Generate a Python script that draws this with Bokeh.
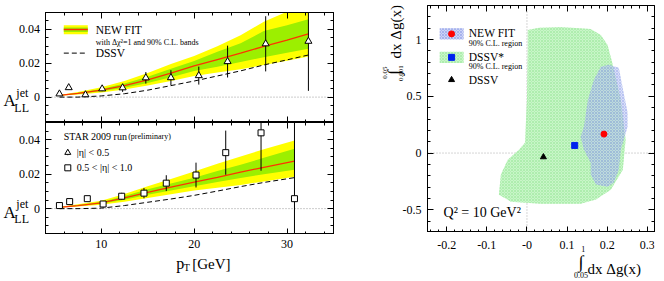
from math import pi
from bokeh.plotting import figure
from bokeh.models import (Range1d, LinearAxis, FixedTicker, CustomJSTickFormatter,
                          Span, Label)
from bokeh.core.properties import value
from bokeh.layouts import row, column
from bokeh.embed import file_html
from bokeh.resources import INLINE

FONT = "Liberation Serif"

# ---------------- data: top-left panel (|eta| < 0.5, triangles) ----------------
pt_top = [5.5, 6.5, 8.3, 10.1, 12.3, 14.8, 17.5, 20.5, 23.6, 27.7, 32.3]
all_top = [0.0019, 0.0056, 0.0014, 0.0049, 0.0055, 0.0114, 0.0115, 0.0127, 0.0210, 0.0315, 0.0330]
err_top = [0.0008, 0.0008, 0.0009, 0.0014, 0.0024, 0.0034, 0.0044, 0.0053, 0.0094, 0.0163, 0.0293]

band_pt_top = [5.5, 7.5, 10, 12.5, 15, 17.5, 20, 22.5, 25, 27.5, 30, 32.3]
fit_top = [0.0010, 0.0022, 0.0041, 0.0068, 0.0102, 0.0142, 0.0184, 0.0222, 0.0260, 0.0300, 0.0337, 0.0374]
green_lo_top = [0.0009, 0.0018, 0.0034, 0.0056, 0.0084, 0.0117, 0.0155, 0.0180, 0.0208, 0.0236, 0.0262, 0.0286]
green_hi_top = [0.0011, 0.0026, 0.0048, 0.0080, 0.0121, 0.0168, 0.0213, 0.0268, 0.0318, 0.0390, 0.0425, 0.0460]
yellow_lo_top = [0.0008, 0.0015, 0.0028, 0.0045, 0.0068, 0.0095, 0.0125, 0.0145, 0.0165, 0.0190, 0.0215, 0.0240]
yellow_hi_top = [0.0012, 0.0030, 0.0058, 0.0095, 0.0142, 0.0195, 0.0243, 0.0300, 0.0365, 0.0445, 0.0505, 0.0560]
dssv_top = [0.0000, 0.0000, 0.0007, 0.0020, 0.0041, 0.0068, 0.0095, 0.0125, 0.0155, 0.0190, 0.0220, 0.0249]

# ---------------- data: bottom-left panel (0.5 < |eta| < 1.0, squares) ----------------
pt_bot = [5.5, 6.6, 8.5, 10.2, 12.2, 14.6, 17.0, 20.2, 23.4, 27.2, 30.8]
all_bot = [0.0018, 0.0041, 0.0058, 0.0027, 0.0072, 0.0090, 0.0148, 0.0195, 0.0325, 0.0440, 0.0058]
err_bot = [0.0008, 0.0008, 0.0009, 0.0012, 0.0020, 0.0030, 0.0046, 0.0072, 0.0128, 0.0220, 0.0700]

band_pt_bot = [5.5, 7.5, 10, 12.5, 15, 17.5, 20, 22.5, 25, 27.5, 30.8]
fit_bot = [0.0008, 0.0018, 0.0033, 0.0062, 0.0095, 0.0125, 0.0154, 0.0182, 0.0212, 0.0240, 0.0276]
green_lo_bot = [0.0007, 0.0015, 0.0028, 0.0052, 0.0080, 0.0105, 0.0130, 0.0155, 0.0178, 0.0200, 0.0226]
green_hi_bot = [0.0009, 0.0021, 0.0039, 0.0073, 0.0113, 0.0146, 0.0180, 0.0218, 0.0255, 0.0295, 0.0348]
yellow_lo_bot = [0.0006, 0.0012, 0.0022, 0.0040, 0.0062, 0.0083, 0.0105, 0.0122, 0.0138, 0.0158, 0.0185]
yellow_hi_bot = [0.0010, 0.0025, 0.0046, 0.0085, 0.0130, 0.0172, 0.0215, 0.0260, 0.0303, 0.0345, 0.0395]
dssv_bot = [0.0000, 0.0000, 0.0003, 0.0018, 0.0037, 0.0056, 0.0077, 0.0102, 0.0128, 0.0152, 0.0180]

# ---------------- data: right panel (truncated moments) ----------------
green_x = [0.002, 0.030, 0.084, 0.159, 0.184, 0.201, 0.214, 0.234, 0.246, 0.239, 0.209, 0.172,
           0.134, 0.034, -0.040, -0.070, -0.065, -0.048, -0.020, -0.005, 0.000, 0.002]
green_y = [1.085, 1.105, 1.110, 1.094, 1.040, 0.953, 0.777, 0.469, 0.117, -0.147, -0.323, -0.410,
           -0.447, -0.447, -0.428, -0.367, -0.190, -0.059, 0.030, 0.090, 0.469, 0.909]
blue_x = [0.204, 0.229, 0.241, 0.251, 0.251, 0.241, 0.234, 0.229, 0.216, 0.201, 0.172, 0.159,
          0.159, 0.142, 0.134, 0.142, 0.152, 0.167, 0.184]
blue_y = [0.777, 0.751, 0.531, 0.354, 0.231, 0.117, 0.029, -0.147, -0.261, -0.296, -0.278, -0.190,
          -0.085, 0.029, 0.143, 0.231, 0.469, 0.645, 0.760]
newfit_pt = (0.192, 0.167)
dssvstar_pt = (0.119, 0.067)
dssv_pt = (0.041, -0.035)

# ---------------- ticks and tick labels ----------------
lx_ticks = [10, 20, 30]
lx_labels = ["10", "20", "30"]
lx_minor = list(range(4, 36, 2))
ly_ticks = [0, 0.02, 0.04]
ly_labels = ["0", "0.02", "0.04"]
ly_minor = [round(-0.015 + 0.005 * i, 3) for i in range(14)]
rx_ticks = [-0.2, -0.1, 0.0, 0.1, 0.2, 0.3]
rx_labels = ["-0.2", "-0.1", "-0", "0.1", "0.2", "0.3"]
rx_minor = [round(-0.24 + 0.02 * i, 2) for i in range(28)]
ry_ticks = [-0.5, 0.0, 0.5, 1.0]
ry_labels = ["-0.5", "0", "0.5", "1"]
ry_minor = [round(-0.6 + 0.1 * i, 1) for i in range(19)]

YELLOW = "#ffff00"
GREEN = "#9cef00"
RED = "#ff3300"
NOLAB = "return '';"


def style_axis(ax):
    ax.axis_line_color = "black"
    ax.axis_line_width = 1
    ax.major_tick_in = 6
    ax.major_tick_out = 0
    ax.minor_tick_in = 3
    ax.minor_tick_out = 0
    ax.major_tick_line_color = "black"
    ax.minor_tick_line_color = "black"
    ax.major_label_text_font_size = "0px"
    ax.major_label_standoff = 0


def add_axes(p, xt, xm, yt, ym):
    for loc in ("below", "above"):
        ax = LinearAxis(ticker=FixedTicker(ticks=xt, minor_ticks=xm),
                        formatter=CustomJSTickFormatter(code=NOLAB))
        style_axis(ax)
        p.add_layout(ax, loc)
    for loc in ("left", "right"):
        ax = LinearAxis(ticker=FixedTicker(ticks=yt, minor_ticks=ym),
                        formatter=CustomJSTickFormatter(code=NOLAB))
        style_axis(ax)
        p.add_layout(ax, loc)


def lab(p, x, y, text, size, align="left", baseline="middle", angle=0.0, xo=0, yo=0,
        xs=False, ys=False):
    p.add_layout(Label(x=x, y=y, x_units="screen" if xs else "data",
                       y_units="screen" if ys else "data", x_offset=xo, y_offset=yo,
                       text=text, text_font=FONT, text_font_size=f"{size}px",
                       text_align=align, text_baseline=baseline, angle=angle,
                       text_color="black"))


def fig(width, height, x_range, y_range, left=0, right=0, top=0, bottom=0, outline=None):
    p = figure(width=width, height=height, x_range=x_range, y_range=y_range,
               output_backend="svg", toolbar_location=None, x_axis_location=None,
               y_axis_location=None, background_fill_color="white", border_fill_color="white",
               outline_line_color=outline, min_border_left=left, min_border_right=right,
               min_border_top=top, min_border_bottom=bottom)
    p.grid.visible = False
    return p


def tick_text(p, xs, ys, labels, align, baseline="middle", size="12px"):
    p.text(x=xs, y=ys, text=labels, text_font=value(FONT), text_font_size=value(size),
           text_align=align, text_baseline=baseline, text_color="black")


def fill_panel(p, band_pt, ylo, yhi, glo, ghi, fit, dssv, pts, vals, errs, marker, msize):
    p.add_layout(Span(location=0, dimension="width", line_color="#999999", line_dash="1 2",
                      line_width=1, level="underlay"))
    p.varea(x=band_pt, y1=ylo, y2=yhi, fill_color=YELLOW)
    p.varea(x=band_pt, y1=glo, y2=ghi, fill_color=GREEN)
    p.line(band_pt, fit, line_color=RED, line_width=1.3)
    p.line(band_pt, dssv, line_color="black", line_width=1, line_dash="5 3")
    p.segment(x0=pts, y0=[a - e for a, e in zip(vals, errs)], x1=pts,
              y1=[a + e for a, e in zip(vals, errs)], line_color="black", line_width=1)
    p.scatter(pts, vals, marker=marker, size=msize, fill_color="white", line_color="black",
              line_width=1)


def ylabel_fig(y_range, height, top, bottom):
    L = fig(44, height, Range1d(0, 44), y_range, top=top, bottom=bottom)
    tick_text(L, [39.5] * len(ly_ticks), ly_ticks, ly_labels, "right")
    lab(L, 3, 0, "A", 17, baseline="alphabetic", yo=-3.7)
    lab(L, 15.8, 0, "jet", 12, baseline="alphabetic", yo=4.3)
    lab(L, 13.8, 0, "LL", 12, baseline="alphabetic", yo=-10.7)
    return L


# ================= left column =================
yr1 = Range1d(-0.015, 0.05)
yr2 = Range1d(-0.015, 0.05)
xr_left = Range1d(4, 35)

p1 = fig(293, 122, xr_left, yr1, left=1, right=4, top=12, bottom=0, outline="black")
add_axes(p1, lx_ticks, lx_minor, ly_ticks, ly_minor)
fill_panel(p1, band_pt_top, yellow_lo_top, yellow_hi_top, green_lo_top, green_hi_top, fit_top,
           dssv_top, pt_top, all_top, err_top, "triangle", 7)
p1.quad(left=[5.97], right=[8.55], bottom=[0.0372], top=[0.0425], fill_color=YELLOW, line_color=None)
p1.quad(left=[5.97], right=[8.55], bottom=[0.0385], top=[0.0412], fill_color=GREEN, line_color=None)
p1.line([5.97, 8.55], [0.0399, 0.0399], line_color=RED, line_width=1.5)
p1.line([5.97, 8.55], [0.026, 0.026], line_color="black", line_width=1, line_dash="5 3")
lab(p1, 9.4, 0.0399, "NEW FIT", 11.5)
lab(p1, 9.4, 0.0325, "with Δχ²=1 and 90% C.L. bands", 8)
lab(p1, 9.4, 0.026, "DSSV", 11.5)
L1 = ylabel_fig(yr1, 122, 12, 0)

p2 = fig(293, 112, xr_left, yr2, left=1, right=4, top=0, bottom=0, outline="black")
add_axes(p2, lx_ticks, lx_minor, ly_ticks, ly_minor)
fill_panel(p2, band_pt_bot, yellow_lo_bot, yellow_hi_bot, green_lo_bot, green_hi_bot, fit_bot,
           dssv_bot, pt_bot, all_bot, err_bot, "square", 6)
lab(p2, 5.97, 0.0418, "STAR 2009 run", 10)
lab(p2, 12.9, 0.0418, "(preliminary)", 8)
p2.segment(x0=[6.4], y0=[0.0310], x1=[6.4], y1=[0.0340], line_color="black")
p2.scatter([6.4], [0.0325], marker="triangle", size=6, fill_color="white", line_color="black")
p2.segment(x0=[6.4], y0=[0.0222], x1=[6.4], y1=[0.0252], line_color="black")
p2.scatter([6.4], [0.0237], marker="square", size=6, fill_color="white", line_color="black")
lab(p2, 7.37, 0.0325, "|η| < 0.5", 10)
lab(p2, 7.37, 0.0237, "0.5 < |η| < 1.0", 10)
L2 = ylabel_fig(yr2, 112, 0, 0)

# x tick labels + p_T label under the bottom-left panel (y in px below the axis)
X2 = fig(337, 47, xr_left, Range1d(47, 0), left=45, right=4)
tick_text(X2, lx_ticks, [9.5] * len(lx_ticks), lx_labels, "center")
lab(X2, 130.7, 29, "p", 16, baseline="alphabetic", xs=True)
lab(X2, 138.2, 33, "T", 10, baseline="alphabetic", xs=True)
lab(X2, 146.7, 29, "[GeV]", 15, baseline="alphabetic", xs=True)

left_col = column(row(L1, p1), row(L2, p2), X2)

# ================= right column =================
xr3 = Range1d(-0.248, 0.318)
yr3 = Range1d(-0.7, 1.3)
p3 = fig(238, 232, xr3, yr3, left=1, right=10, top=5, bottom=0, outline="black")
add_axes(p3, rx_ticks, rx_minor, ry_ticks, ry_minor)
p3.add_layout(Span(location=0, dimension="width", line_color="#aaaaaa", line_dash="1 2",
                   line_width=1, level="underlay"))
p3.add_layout(Span(location=0, dimension="height", line_color="#aaaaaa", line_dash="1 2",
                   line_width=1, level="underlay"))
p3.patch(green_x, green_y, fill_color="#c8f6c8", line_color=None,
         hatch_pattern="diagonal_cross", hatch_color="#95e495", hatch_scale=3, hatch_weight=0.5)
p3.patch(blue_x, blue_y, fill_color="#b3bff2", fill_alpha=0.5, line_color=None,
         hatch_pattern="diagonal_cross", hatch_color="#7d8ee6", hatch_alpha=0.6, hatch_scale=3,
         hatch_weight=0.6)
p3.scatter([newfit_pt[0]], [newfit_pt[1]], marker="circle", size=6, fill_color="red", line_color="red")
p3.scatter([dssvstar_pt[0]], [dssvstar_pt[1]], marker="square", size=6, fill_color="#0022ee",
           line_color="#0022ee")
p3.scatter([dssv_pt[0]], [dssv_pt[1]], marker="triangle", size=6, fill_color="black", line_color="black")
p3.quad(left=[-0.2175], right=[-0.158], bottom=[1.0], top=[1.1], fill_color="#ccd3f6",
        line_color=None, hatch_pattern="diagonal_cross", hatch_color="#8d9ce8", hatch_scale=3,
        hatch_weight=0.6)
p3.scatter([-0.188], [1.05], marker="circle", size=6, fill_color="red", line_color="red")
p3.quad(left=[-0.2175], right=[-0.158], bottom=[0.793], top=[0.893], fill_color="#c8f6c8",
        line_color=None, hatch_pattern="diagonal_cross", hatch_color="#95e495", hatch_scale=3,
        hatch_weight=0.5)
p3.scatter([-0.188], [0.843], marker="square", size=6, fill_color="#0022ee", line_color="#0022ee")
p3.scatter([-0.188], [0.645], marker="triangle", size=6, fill_color="black", line_color="black")
lab(p3, -0.145, 1.055, "NEW FIT", 11.5)
lab(p3, -0.145, 0.966, "90% C.L. region", 8)
lab(p3, -0.145, 0.848, "DSSV*", 11.5)
lab(p3, -0.145, 0.762, "90% C.L. region", 8)
lab(p3, -0.145, 0.648, "DSSV", 11.5)
lab(p3, -0.208, -0.526, "Q² = 10 GeV²", 14)

# y tick labels + rotated y label (x in px from the figure's left edge)
YL = fig(89, 232, Range1d(0, 89), yr3, top=5, bottom=0)
tick_text(YL, [84] * len(ry_ticks), ry_ticks, ry_labels, "right")
lab(YL, 58.5, 174, "dx Δg(x)", 15, angle=pi / 2, ys=True)
lab(YL, 56.5, 160, "∫", 18, align="center", angle=pi / 2, ys=True)
lab(YL, 47.5, 160, "0.05", 7, align="center", angle=pi / 2, ys=True)
lab(YL, 63.5, 159.5, "0.001", 7, align="center", angle=pi / 2, ys=True)

# x tick labels + x label (y in px below the axis)
X3 = fig(327, 49, xr3, Range1d(49, 0), left=90, right=10)
tick_text(X3, rx_ticks, [12] * len(rx_ticks), rx_labels, "center")
lab(X3, 153.5, 29, "∫", 18, align="center", xs=True)
lab(X3, 155.7, 16.3, "1", 8, align="center", xs=True)
lab(X3, 153.5, 42.5, "0.05", 8, align="center", xs=True)
lab(X3, 160, 36, "dx Δg(x)", 15, baseline="alphabetic", xs=True)

right_col = column(row(YL, p3), X3)

layout = row(left_col, right_col)
open("out.html", "w").write(file_html(layout, INLINE))
